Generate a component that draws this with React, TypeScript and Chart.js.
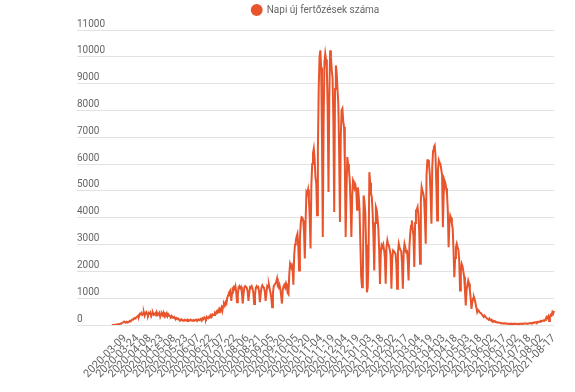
import React, { useEffect, useRef } from 'react';
import { Chart, registerables } from 'chart.js';

Chart.register(...registerables);

const START_DATE = '2020-02-22';
const END_DATE = '2021-08-17';
const MISSING_DATES = ['2021-07-10'];

const SERIES_LABEL = 'Napi új fertőzések száma';

const TICK_LABELS = [
  '2020-03-09', '2020-03-24', '2020-04-08', '2020-04-23', '2020-05-08', '2020-05-23',
  '2020-06-07', '2020-06-22', '2020-07-07', '2020-07-22', '2020-08-06', '2020-08-21',
  '2020-09-05', '2020-09-20', '2020-10-05', '2020-10-20', '2020-11-04', '2020-11-19',
  '2020-12-04', '2020-12-19', '2021-01-03', '2021-01-18', '2021-02-02', '2021-02-17',
  '2021-03-04', '2021-03-19', '2021-04-03', '2021-04-18', '2021-05-03', '2021-05-18',
  '2021-06-02', '2021-06-17', '2021-07-02', '2021-07-18', '2021-08-02', '2021-08-17',
];

const Y_MIN = 0;
const Y_MAX = 11000;
const Y_STEP = 1000;

const CASES_PART_1 = [
  2, 3, 4, 7, 9, 13, 19, 30, 32, 39,
  50, 58, 73, 85, 103, 131, 105, 99, 120, 90,
  110, 130, 150, 140, 180, 210, 200, 240, 260, 250,
  290, 310, 350, 330, 420, 400, 450, 380, 420, 470,
  350, 440, 480, 400, 360, 450, 420, 470, 330, 410,
  460, 380, 410, 440, 350, 470, 420, 390, 450, 310,
  400, 430, 370, 460, 340, 420, 380, 440, 330, 400,
  360, 320, 300, 340, 280, 270, 300, 250, 230, 260,
  220, 240, 200, 190, 170, 210, 180, 160, 185, 200,
  175, 185, 150, 190, 170, 165, 200, 180, 155, 175,
];

const CASES_PART_2 = [
  190, 160, 180, 200, 170, 185, 210, 175, 195, 230,
  200, 250, 220, 280, 240, 210, 300, 260, 250, 320,
  280, 350, 310, 400, 380, 370, 450, 420, 500, 460,
  550, 480, 600, 560, 650, 520, 700, 790, 720, 850,
  800, 1000, 1100, 1190, 1250, 1300, 900, 1200, 1380, 1420,
  1350, 1450, 1250, 850, 1150, 1400, 1450, 1380, 1420, 1200,
  800, 1150, 1400, 1450, 1420, 1380, 1250, 900, 1200, 1420,
  1400, 1450, 1350, 1200, 780, 1100, 1380, 1450, 1400, 1420,
  1250, 850, 1150, 1400, 1480, 1420, 1380, 1250, 900, 1200,
  1450, 1400, 1500, 1350, 1200, 1000, 660, 1200, 1450, 1500,
];

const CASES_PART_3 = [
  1550, 1600, 1730, 1450, 1400, 1500, 1350, 1100, 800, 1300,
  1450, 1500, 1400, 1550, 1450, 1200, 1150, 1900, 2290, 2200,
  2250, 2100, 1500, 2600, 3000, 3150, 3300, 3400, 2900, 2030,
  3200, 3800, 4020, 4000, 3900, 3500, 2480, 3900, 4960, 4900,
  5050, 4700, 4000, 2850, 5200, 6000, 6400, 6580, 6200, 5520,
  5300, 4090, 6500, 8800, 10000, 10240, 9600, 7000, 3280, 7500,
  9800, 10120, 9900, 9500, 8000, 4960, 8500, 10240, 10000, 9500,
  9200, 7500, 4210, 8800, 9680, 9400, 8800, 8250, 6500, 3840,
  7000, 8000, 8070, 7600, 7380, 6000, 3280, 5000, 6260, 6000,
  5800, 5400, 4500, 3280, 4800, 5390, 5300, 5100, 5200, 5000,
];

const CASES_PART_4 = [
  4300, 5130, 4800, 4300, 3000, 1800, 1410, 1600, 4830, 4600,
  4200, 3000, 1220, 1400, 2500, 5700, 5300, 4900, 4780, 4200,
  3300, 2030, 3800, 4400, 4300, 4000, 3600, 2800, 1530, 2700,
  2970, 2900, 3000, 2800, 2500, 1540, 2900, 3150, 3000, 2950,
  2800, 2600, 1350, 2500, 2780, 2750, 2700, 2650, 2300, 1350,
  2700, 3030, 2900, 2800, 2750, 2300, 1350, 2700, 3030, 2900,
  2700, 2800, 2400, 1660, 2900, 3400, 3700, 3900, 3600, 3300,
  2160, 3800, 4270, 4300, 4400, 4100, 3500, 2280, 4600, 5140,
  5000, 4900, 4700, 4000, 3030, 5600, 6140, 6140, 6000, 5600,
  4800, 3780, 5900, 6500, 6640, 6700, 6300, 5200, 3900, 5800,
];

const CASES_PART_5 = [
  6140, 6050, 6000, 5800, 5600, 3650, 4900, 5390, 5300, 5100,
  4900, 4300, 2900, 3800, 4080, 4000, 3780, 3600, 2800, 1780,
  2500, 2900, 3030, 2900, 2800, 2400, 1290, 2000, 2280, 2200,
  2000, 1800, 1300, 730, 1300, 1500, 1660, 1550, 1300, 1000,
  600, 850, 1000, 1040, 950, 800, 650, 480, 560, 520,
  470, 450, 430, 380, 340, 300, 350, 310, 280, 240,
  230, 200, 240, 180, 200, 160, 170, 130, 140, 110,
  120, 100, 90, 100, 85, 80, 70, 75, 60, 65,
  55, 60, 50, 55, 45, 50, 40, 48, 42, 50,
  38, 45, 40, 52, 44, 40, 48, 38, 45, 50,
];

const CASES_PART_6 = [
  42, 55, 48, 45, 52, 60, 50, 58, 52, 48,
  58, 65, 70, 60, 75, 85, 80, 100, 95, 110,
  90, 120, 110, 130, 125, 150, 140, 160, 170, 150,
  190, 230, 300, 260, 320, 150, 300, 380, 350, 480,
  420, 520,
];

const DAILY_CASES = [
  ...CASES_PART_1,
  ...CASES_PART_2,
  ...CASES_PART_3,
  ...CASES_PART_4,
  ...CASES_PART_5,
  ...CASES_PART_6,
];

function buildDates(): string[] {
  const out: string[] = [];
  const d = new Date(START_DATE + 'T00:00:00Z');
  const end = new Date(END_DATE + 'T00:00:00Z');
  while (d.getTime() <= end.getTime()) {
    const s = d.toISOString().slice(0, 10);
    if (!MISSING_DATES.includes(s)) out.push(s);
    d.setUTCDate(d.getUTCDate() + 1);
  }
  return out;
}

const LINE_COLOR = '#e8552d';
const GRID_COLOR = '#e2e2e2';
const TEXT_COLOR = '#666666';

export default function App() {
  const ref = useRef<HTMLCanvasElement | null>(null);

  useEffect(() => {
    if (!ref.current) return;
    const dates = buildDates();

    const chart = new Chart(ref.current, {
      type: 'line',
      data: {
        labels: dates,
        datasets: [
          {
            label: SERIES_LABEL,
            data: DAILY_CASES,
            borderColor: LINE_COLOR,
            backgroundColor: LINE_COLOR,
            borderWidth: 2,
            pointRadius: 0,
            pointHoverRadius: 0,
            tension: 0,
            fill: false,
          },
        ],
      },
      options: {
        responsive: false,
        animation: false,
        events: [],
        layout: { padding: { left: 77, right: 21, top: 0, bottom: 0 } },
        plugins: {
          tooltip: { enabled: false },
          title: { display: false },
          subtitle: {
            display: true,
            text: '',
            position: 'top',
            weight: 500,
            padding: 0,
            font: { family: 'Roboto', size: 4, lineHeight: 1.25 },
          } as any,
          legend: {
            display: true,
            position: 'top',
            labels: {
              usePointStyle: true,
              pointStyle: 'circle',
              boxHeight: 7,
              padding: 5,
              color: TEXT_COLOR,
              font: { family: 'Roboto', size: 10 },
            },
          },
        },
        scales: {
          x: {
            type: 'category',
            offset: false,
            grid: { display: false, drawTicks: false },
            border: { display: false },
            afterFit: (s: any) => {
              s.height = 67;
            },
            ticks: {
              autoSkip: false,
              minRotation: 45,
              maxRotation: 45,
              padding: 7,
              color: TEXT_COLOR,
              font: { family: 'Roboto', size: 11 },
              callback: function (this: any, value: any) {
                const lbl = this.getLabelForValue(value);
                return TICK_LABELS.includes(lbl) ? lbl : null;
              },
            },
          },
          y: {
            min: Y_MIN,
            max: Y_MAX,
            grid: { color: GRID_COLOR, drawTicks: true, tickLength: 35, lineWidth: 1 },
            border: { display: false },
            afterFit: (s: any) => {
              s.width = 35;
            },
            ticks: {
              stepSize: Y_STEP,
              crossAlign: 'far',
              labelOffset: -6,
              padding: 0,
              color: TEXT_COLOR,
              font: { family: 'Roboto', size: 10 },
              callback: (v: any) => String(v),
            },
          },
        },
      },
    });

    return () => chart.destroy();
  }, []);

  return (
    <canvas
      ref={ref}
      width={575}
      height={392}
      style={{ position: 'fixed', left: 0, top: 0, display: 'block' }}
    />
  );
}
